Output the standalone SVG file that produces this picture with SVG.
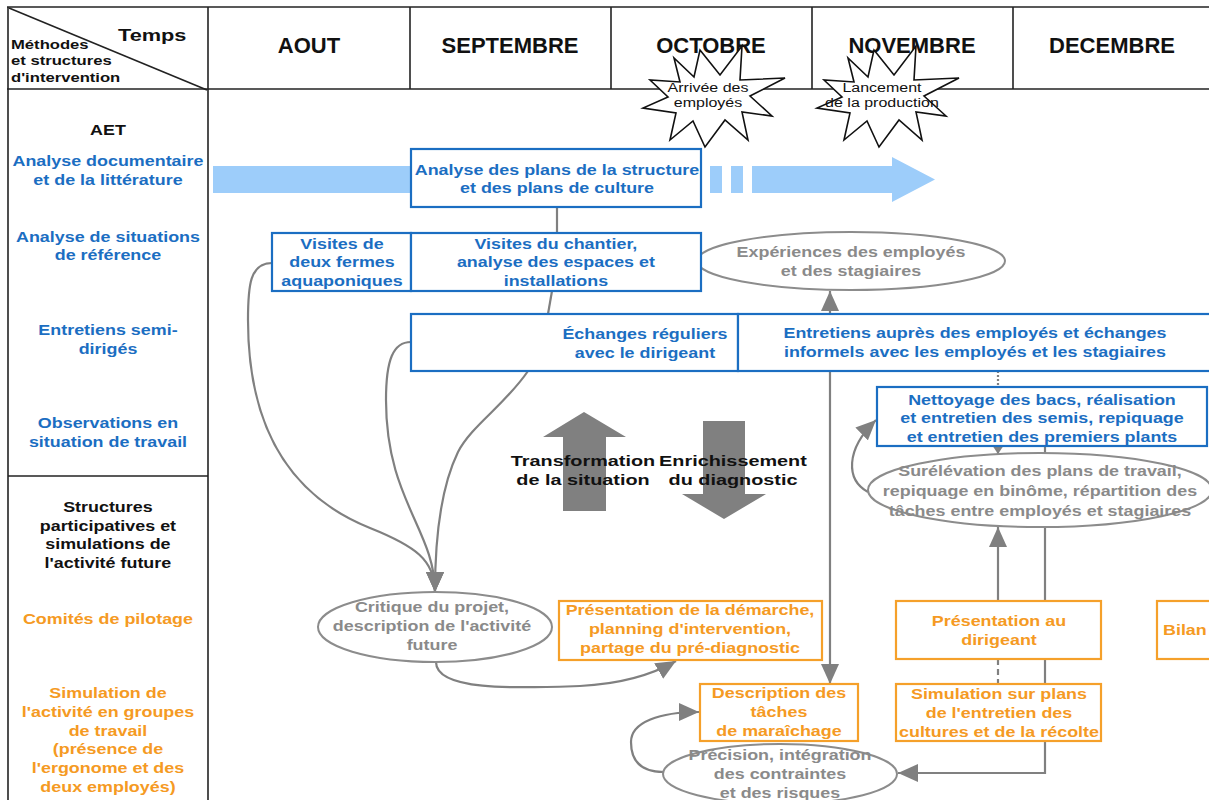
<svg xmlns="http://www.w3.org/2000/svg" width="1209" height="800" viewBox="0 0 1209 800">
<style>
text { font-family: "Liberation Sans", Arial, sans-serif; font-weight: bold; font-size: 14px; }
.c { text-anchor: middle; }
.s { transform-box: fill-box; transform-origin: 50% 50%; transform: scaleX(1.28); }
.sl { transform-box: fill-box; transform-origin: 0% 50%; transform: scaleX(1.28); }
.blue { fill: #1b6ec2; }
.orange { fill: #f59a23; }
.grey { fill: #8a8a8a; }
.black { fill: #111; }
.month { font-size: 22px; fill: #111; text-anchor: middle; }
.star { font-weight: normal; font-size: 12.5px; fill: #111; }
.tbl line { stroke: #222; stroke-width: 1.6; }
.bbox { fill: #fff; stroke: #1b6ec2; stroke-width: 2.2; }
.obox { fill: #fff; stroke: #f5a02a; stroke-width: 2.2; }
.ell { fill: #fff; stroke: #8c8c8c; stroke-width: 2; }
.con { fill: none; stroke: #808080; stroke-width: 2.2; }
.burst { fill: #fff; stroke: #111; stroke-width: 1.6; stroke-linejoin: miter; }
</style>
<defs>
<marker id="ah" viewBox="0 0 20 18" refX="20" refY="9" markerWidth="20" markerHeight="18" markerUnits="userSpaceOnUse" orient="auto-start-reverse"><path d="M0,0 L20,9 L0,18 z" fill="#808080"/></marker>
<marker id="ahs" viewBox="0 0 9 12" refX="9" refY="6" markerWidth="9" markerHeight="12" markerUnits="userSpaceOnUse" orient="auto"><path d="M0,0 L9,6 L0,12 z" fill="#808080"/></marker>
<polygon id="burstShape" points="700,50 720,75 742,46 740,80 785,78 750,96 772,116 742,112 748,140 725,120 705,147 693,121 670,140 676,113 643,108 668,97 650,80 680,82 674,58 694,77"/>
</defs>
<rect width="1209" height="800" fill="#fff"/>

<g id="table" class="tbl">
<line x1="7" y1="7" x2="1209" y2="7"/>
<line x1="7" y1="89" x2="1209" y2="89"/>
<line x1="8" y1="7" x2="8" y2="800"/>
<line x1="208" y1="7" x2="208" y2="800"/>
<line x1="410" y1="7" x2="410" y2="89"/>
<line x1="611" y1="7" x2="611" y2="89"/>
<line x1="812" y1="7" x2="812" y2="89"/>
<line x1="1013" y1="7" x2="1013" y2="89"/>
<line x1="8" y1="476" x2="208" y2="476"/>
<line x1="9" y1="8" x2="207" y2="90"/>
</g>

<g id="header-labels">
<text class="sl black" x="118" y="41" style="font-size:17px">Temps</text>
<text class="sl black" x="11" y="49" style="font-size:13px"><tspan x="11">Méthodes</tspan><tspan x="11" dy="16.5">et structures</tspan><tspan x="11" dy="16.5">d'intervention</tspan></text>
<text class="month" x="309" y="53">AOUT</text>
<text class="month" x="510" y="53">SEPTEMBRE</text>
<text class="month" x="711" y="53">OCTOBRE</text>
<text class="month" x="912" y="53">NOVEMBRE</text>
<text class="month" x="1112" y="53">DECEMBRE</text>
</g>

<g id="left-column">
<text class="c s black" x="108" y="135">AET</text>
<text class="c s blue" x="108" y="166"><tspan x="108">Analyse documentaire</tspan><tspan x="108" dy="19.5">et de la littérature</tspan></text>
<text class="c s blue" x="108" y="242"><tspan x="108">Analyse de situations</tspan><tspan x="108" dy="18.5">de référence</tspan></text>
<text class="c s blue" x="108" y="335"><tspan x="108">Entretiens semi-</tspan><tspan x="108" dy="19">dirigés</tspan></text>
<text class="c s blue" x="108" y="428"><tspan x="108">Observations en</tspan><tspan x="108" dy="19">situation de travail</tspan></text>
<text class="c s black" x="108" y="512"><tspan x="108">Structures</tspan><tspan x="108" dy="18.7">participatives et</tspan><tspan x="108" dy="18.7">simulations de</tspan><tspan x="108" dy="18.7">l'activité future</tspan></text>
<text class="c s orange" x="108" y="624">Comités de pilotage</text>
<text class="c s orange" x="108" y="698"><tspan x="108">Simulation de</tspan><tspan x="108" dy="18.8">l'activité en groupes</tspan><tspan x="108" dy="18.8">de travail</tspan><tspan x="108" dy="18.8">(présence de</tspan><tspan x="108" dy="18.8">l'ergonome et des</tspan><tspan x="108" dy="18.8">deux employés)</tspan></text>
</g>

<g id="doc-arrow" fill="#9dcdfa">
<rect x="213" y="166" width="200" height="27"/>
<rect x="710" y="166" width="12" height="27"/>
<rect x="731" y="166" width="12" height="27"/>
<polygon points="752,166 892,166 892,157 935,179.5 892,202 892,193 752,193"/>
</g>

<g id="big-arrows" fill="#808080">
<polygon points="584,412 626,437 606,437 606,511 563,511 563,437 543,437"/>
<polygon points="703,421 745,421 745,494 766,494 724,519 682,494 703,494"/>
</g>

<g id="connectors">
<path class="con" d="M557,207 L557,233"/>
<path class="con" d="M552,291 L548,314"/>
<path class="con" d="M830,291 L830,684" marker-start="url(#ah)" marker-end="url(#ah)"/>
<path class="con" d="M998,371 L998,387" stroke-width="1.2" stroke-dasharray="2,2"/>
<path class="con" d="M998,446 L998,454" marker-end="url(#ahs)"/>
<path class="con" d="M1045,446 L1045,453"/>
<path class="con" d="M998,601 L998,527" marker-end="url(#ah)"/>
<path class="con" d="M1045,527 L1045,601"/>
<path class="con" d="M998,659 L998,684" stroke-dasharray="6,4"/>
<path class="con" d="M1045,659 L1045,684"/>
<path class="con" d="M1045,741 L1045,773 L898,773" marker-end="url(#ah)"/>
<path class="con" d="M868,492 C846,480 845,450 876,420" marker-end="url(#ah)"/>
<path class="con" d="M272,263 C250,263 248,285 248,320 C248,440 300,500 370,528 C415,546 435,560 435,592" marker-end="url(#ah)"/>
<path class="con" d="M411,342 C393,342 386,360 386,400 C386,500 435,530 435,592" marker-end="url(#ah)"/>
<path class="con" d="M528,371 C505,405 472,425 458,452 C442,485 435,530 435,592" marker-end="url(#ah)"/>
<path class="con" d="M436,662 C436,692 520,688 580,686 C620,684 650,676 676,661" marker-end="url(#ah)"/>
<path class="con" d="M664,772 C640,772 631,760 631,742 C631,722 660,712 699,712" marker-end="url(#ah)"/>
</g>

<g id="n-arrivee">
<use href="#burstShape" class="burst"/>
<text class="c s star" x="708" y="92"><tspan x="708">Arrivée des</tspan><tspan x="708" dy="15">employés</tspan></text>
</g>
<g id="n-lancement">
<use href="#burstShape" class="burst" x="174"/>
<text class="c s star" x="882" y="92"><tspan x="882">Lancement</tspan><tspan x="882" dy="15">de la production</tspan></text>
</g>

<g id="n-experiences">
<ellipse class="ell" cx="851" cy="261" rx="154" ry="29"/>
<text class="c s grey" x="851" y="257"><tspan x="851">Expériences des employés</tspan><tspan x="851" dy="19">et des stagiaires</tspan></text>
</g>
<g id="n-surelevation">
<ellipse class="ell" cx="1040" cy="490" rx="172" ry="37"/>
<text class="c s grey" x="1040" y="476"><tspan x="1040">Surélévation des plans de travail,</tspan><tspan x="1040" dy="20">repiquage en binôme, répartition des</tspan><tspan x="1040" dy="20">tâches entre employés et stagiaires</tspan></text>
</g>
<g id="n-critique">
<ellipse class="ell" cx="435" cy="627" rx="117" ry="35"/>
<text class="c s grey" x="432" y="612"><tspan x="432">Critique du projet,</tspan><tspan x="432" dy="19">description de l'activité</tspan><tspan x="432" dy="19">future</tspan></text>
</g>
<g id="n-precision">
<ellipse class="ell" cx="780" cy="774" rx="117" ry="30"/>
<text class="c s grey" x="780" y="760"><tspan x="780">Précision, intégration</tspan><tspan x="780" dy="19">des contraintes</tspan><tspan x="780" dy="19">et des risques</tspan></text>
</g>

<g id="n-analyse-plans">
<rect class="bbox" x="411" y="149" width="290" height="58"/>
<text class="c s blue" x="557" y="175"><tspan x="557">Analyse des plans de la structure</tspan><tspan x="557" dy="18.5">et des plans de culture</tspan></text>
</g>
<g id="n-visites-fermes">
<rect class="bbox" x="272" y="233" width="139" height="58"/>
<text class="c s blue" x="342" y="249"><tspan x="342">Visites de</tspan><tspan x="342" dy="18.5">deux fermes</tspan><tspan x="342" dy="18.5">aquaponiques</tspan></text>
</g>
<g id="n-visites-chantier">
<rect class="bbox" x="411" y="233" width="290" height="58"/>
<text class="c s blue" x="556" y="249"><tspan x="556">Visites du chantier,</tspan><tspan x="556" dy="18.5">analyse des espaces et</tspan><tspan x="556" dy="18.5">installations</tspan></text>
</g>
<g id="n-echanges">
<rect class="bbox" x="411" y="314" width="327" height="57"/>
<text class="c s blue" x="645" y="339"><tspan x="645">Échanges réguliers</tspan><tspan x="645" dy="19">avec le dirigeant</tspan></text>
</g>
<g id="n-entretiens">
<rect class="bbox" x="738" y="314" width="480" height="57"/>
<text class="c s blue" x="975" y="338"><tspan x="975">Entretiens auprès des employés et échanges</tspan><tspan x="975" dy="19">informels avec les employés et les stagiaires</tspan></text>
</g>
<g id="n-nettoyage">
<rect class="bbox" x="877" y="387" width="330" height="59"/>
<text class="c s blue" x="1042" y="405"><tspan x="1042">Nettoyage des bacs, réalisation</tspan><tspan x="1042" dy="18.5">et entretien des semis, repiquage</tspan><tspan x="1042" dy="18.5">et entretien des premiers plants</tspan></text>
</g>

<g id="n-presentation-demarche">
<rect class="obox" x="559" y="601" width="263" height="59"/>
<text class="c s orange" x="690" y="615"><tspan x="690">Présentation de la démarche,</tspan><tspan x="690" dy="19">planning d'intervention,</tspan><tspan x="690" dy="19">partage du pré-diagnostic</tspan></text>
</g>
<g id="n-description">
<rect class="obox" x="700" y="684" width="158" height="57"/>
<text class="c s orange" x="779" y="698"><tspan x="779">Description des</tspan><tspan x="779" dy="19">tâches</tspan><tspan x="779" dy="19">de maraîchage</tspan></text>
</g>
<g id="n-presentation-dirigeant">
<rect class="obox" x="896" y="601" width="205" height="58"/>
<text class="c s orange" x="999" y="626"><tspan x="999">Présentation au</tspan><tspan x="999" dy="19">dirigeant</tspan></text>
</g>
<g id="n-simulation-plans">
<rect class="obox" x="896" y="684" width="205" height="57"/>
<text class="c s orange" x="999" y="699"><tspan x="999">Simulation sur plans</tspan><tspan x="999" dy="19">de l'entretien des</tspan><tspan x="999" dy="19">cultures et de la récolte</tspan></text>
</g>
<g id="n-bilan">
<rect class="obox" x="1157" y="601" width="60" height="58"/>
<text class="sl orange" x="1163" y="635">Bilan</text>
</g>

<g id="arrow-labels">
<text class="c s black" x="583" y="466" style="font-size:15.5px"><tspan x="583">Transformation</tspan><tspan x="583" dy="19">de la situation</tspan></text>
<text class="c s black" x="733" y="466" style="font-size:15.5px"><tspan x="733">Enrichissement</tspan><tspan x="733" dy="19">du diagnostic</tspan></text>
</g>
</svg>
